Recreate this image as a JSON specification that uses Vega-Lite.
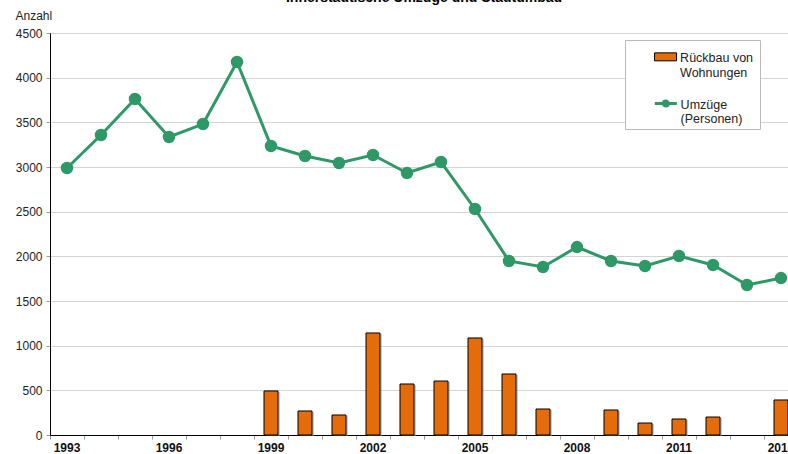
{
  "$schema": "https://vega.github.io/schema/vega-lite/v6.json",
  "width": 748,
  "height": 402,
  "autosize": {"type": "none"},
  "padding": {"left": 50, "top": 33, "right": 0, "bottom": 19},
  "config": {
    "font": "Liberation Sans",
    "view": {"stroke": "#888", "strokeWidth": 1},
    "axis": {"grid": false}
  },
  "title": {
    "text": "Innerstädtische Umzüge und Stadtumbau",
    "fontSize": 14,
    "fontWeight": "bold",
    "anchor": "middle",
    "offset": 4,
    "color": "#000"
  },
  "data": {
    "values": [
      {"year": 1993, "umzuege": 2989, "rueckbau": null},
      {"year": 1994, "umzuege": 3358, "rueckbau": null},
      {"year": 1995, "umzuege": 3761, "rueckbau": null},
      {"year": 1996, "umzuege": 3336, "rueckbau": null},
      {"year": 1997, "umzuege": 3481, "rueckbau": null},
      {"year": 1998, "umzuege": 4175, "rueckbau": null},
      {"year": 1999, "umzuege": 3235, "rueckbau": 493},
      {"year": 2000, "umzuege": 3123, "rueckbau": 269},
      {"year": 2001, "umzuege": 3045, "rueckbau": 224},
      {"year": 2002, "umzuege": 3134, "rueckbau": 1142},
      {"year": 2003, "umzuege": 2933, "rueckbau": 571},
      {"year": 2004, "umzuege": 3056, "rueckbau": 604},
      {"year": 2005, "umzuege": 2530, "rueckbau": 1086},
      {"year": 2006, "umzuege": 1948, "rueckbau": 683},
      {"year": 2007, "umzuege": 1881, "rueckbau": 291},
      {"year": 2008, "umzuege": 2104, "rueckbau": null},
      {"year": 2009, "umzuege": 1948, "rueckbau": 280},
      {"year": 2010, "umzuege": 1892, "rueckbau": 134},
      {"year": 2011, "umzuege": 2004, "rueckbau": 179},
      {"year": 2012, "umzuege": 1903, "rueckbau": 201},
      {"year": 2013, "umzuege": 1679, "rueckbau": null},
      {"year": 2014, "umzuege": 1757, "rueckbau": 392}
    ]
  },
  "layer": [
    {
      "mark": {"type": "bar", "color": "#999", "opacity": 0.5, "xOffset": 2, "yOffset": 1, "width": 14},
      "encoding": {
        "x": {"field": "year", "type": "ordinal", "axis": null, "scale": {"paddingInner": 0, "paddingOuter": 0}},
        "y": {"field": "rueckbau", "type": "quantitative"}
      }
    },
    {
      "mark": {"type": "bar", "stroke": "#000", "strokeWidth": 1, "width": 14},
      "encoding": {
        "x": {
          "field": "year", "type": "ordinal",
          "axis": {"orient": "bottom", "title": null, "labels": false, "bandPosition": 0, "ticks": true, "tickSize": 4, "tickColor": "#999", "domainColor": "#000", "domainWidth": 1}
        },
        "y": {
          "field": "rueckbau", "type": "quantitative",
          "scale": {"domain": [0, 4500], "nice": false},
          "axis": {
            "values": [0, 500, 1000, 1500, 2000, 2500, 3000, 3500, 4000, 4500],
            "format": "d",
            "grid": true, "gridColor": "#d4d4d4", "gridWidth": 1,
            "domainColor": "#000", "domainWidth": 1,
            "tickSize": 4, "tickColor": "#999",
            "labelFontSize": 12, "labelColor": "#222", "labelPadding": 4,
            "title": "Anzahl", "titleAngle": 0, "titleX": -35, "titleY": -18,
            "titleAlign": "left", "titleBaseline": "middle",
            "titleFontWeight": "normal", "titleFontSize": 12, "titleColor": "#222"
          }
        },
        "fill": {
          "datum": "Rückbau von Wohnungen",
          "scale": {"range": ["#E46C0A"]},
          "legend": {
            "title": null,
            "orient": "none",
            "legendX": 575,
            "legendY": 7,
            "strokeColor": "#bbb",
            "fillColor": "#fff",
            "padding": 6,
            "symbolType": "M-2.35,0.13H2.35V1.83H-2.35Z",
            "symbolSize": 88,
            "symbolOffset": 28.3,
            "symbolFillColor": "#E46C0A",
            "symbolStrokeColor": "#000",
            "symbolStrokeWidth": 1,
            "symbolOpacity": 1,
            "labelOffset": 8.3,
            "labelFontSize": 12.5,
            "labelColor": "#222",
            "labelBaseline": "top",
            "labelExpr": "['Rückbau von', 'Wohnungen', '', '', '']"
          }
        }
      }
    },
    {
      "mark": {"type": "line", "strokeWidth": 3, "color": "#2E9966", "point": {"size": 110, "filled": true, "fill": "#2E9966"}},
      "encoding": {
        "x": {
          "field": "year", "type": "ordinal",
          "axis": {"orient": "bottom", "title": null, "values": [1993, 1996, 1999, 2002, 2005, 2008, 2011, 2014], "labelAngle": 0, "ticks": false, "domain": false, "labelFontWeight": "bold", "labelFontSize": 12, "labelColor": "#111", "labelPadding": 7}
        },
        "y": {"field": "umzuege", "type": "quantitative"},
        "stroke": {
          "datum": "Umzüge (Personen)",
          "scale": {"range": ["#2E9966"]},
          "legend": {
            "title": null,
            "orient": "none",
            "legendX": 575,
            "legendY": 53,
            "strokeColor": "transparent",
            "fillColor": "transparent",
            "padding": 6,
            "symbolType": "M-2.35,1.07H2.35M0.53,1.07A0.53,0.53 0 1,1 -0.53,1.07A0.53,0.53 0 1,1 0.53,1.07",
            "symbolSize": 88,
            "symbolOffset": 28.3,
            "symbolStrokeColor": "#2E9966",
            "symbolFillColor": "#2E9966",
            "symbolStrokeWidth": 3,
            "symbolOpacity": 1,
            "labelOffset": 8.3,
            "labelFontSize": 12.5,
            "labelColor": "#222",
            "labelBaseline": "top",
            "labelExpr": "['Umzüge', '(Personen)']"
          }
        }
      }
    }
  ],
  "resolve": {"axis": {"x": "independent"}}
}
